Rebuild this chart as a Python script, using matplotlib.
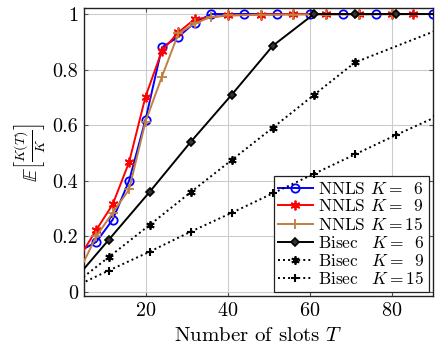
import matplotlib
matplotlib.use("Agg")
import matplotlib.pyplot as plt
from matplotlib.ticker import FixedLocator, FuncFormatter

plt.rcParams['font.family'] = 'serif'
plt.rcParams['font.serif'] = ['cmr10']
plt.rcParams['mathtext.fontset'] = 'cm'
plt.rcParams['axes.formatter.use_mathtext'] = True

# NNLS series
t_nnls6 = [4, 8, 12, 16, 20, 24, 28, 32, 36, 44, 52, 60, 68, 76, 90]
v_nnls6 = [0.147, 0.18, 0.26, 0.40, 0.62, 0.88, 0.918, 0.969, 1.0, 1.0, 1.0, 1.0, 1.0, 1.0, 1.0]

t_nnls9 = [4, 8, 12, 16, 20, 24, 28, 32, 40, 48, 56, 64, 72, 80, 85, 92]
v_nnls9 = [0.127, 0.223, 0.315, 0.467, 0.703, 0.868, 0.934, 0.982, 0.995, 0.998, 1.0, 1.0, 1.0, 1.0, 1.0, 1.0]

t_nnls15 = [4, 8, 12, 16, 20, 24, 28, 32, 36, 40, 48, 56, 64, 72, 80, 92]
v_nnls15 = [0.079, 0.20, 0.285, 0.369, 0.613, 0.775, 0.93, 0.966, 0.99, 0.995, 0.997, 0.998, 0.998, 0.998, 0.999, 1.0]

# Bisection series
t_bisec = [1, 11, 21, 31, 41, 51, 61, 71, 81, 91]
v_bisec6 = [0.014, 0.187, 0.36, 0.54, 0.71, 0.886, 1.0, 1.0, 1.0, 1.0]
t_bisec9 = [1, 11, 21, 31, 41, 51, 61, 71, 101]
v_bisec9 = [0.009, 0.125, 0.241, 0.359, 0.475, 0.591, 0.709, 0.826, 1.0]
v_bisec15 = [0.007, 0.077, 0.145, 0.217, 0.285, 0.355, 0.425, 0.495, 0.565, 0.632]

labels = [r'NNLS $K=\;\;6$', r'NNLS $K=\;\;9$', r'NNLS $K=15$',
          r'Bisec $\;\;K=\;\;6$', r'Bisec $\;\;K=\;\;9$', r'Bisec $\;\;K=15$']

xticks = [20, 40, 60, 80]
yticks = [0, 0.2, 0.4, 0.6, 0.8, 1]

fig = plt.figure(figsize=(4.37, 3.56), dpi=100)
ax = fig.add_axes([0.192, 0.1685, 0.799, 0.809])

brown = '#bf8040'
asterisk = (6, 2, 0)
lw = 1.4

ax.plot(t_nnls6, v_nnls6, color='blue', lw=lw, marker='o', ms=6, mfc='none', mew=1.3,
        markevery=list(range(1, len(t_nnls6))), label=labels[0], zorder=3)
ax.plot(t_nnls9, v_nnls9, color='red', lw=lw, marker=asterisk, ms=7, mew=1.3,
        markevery=list(range(1, len(t_nnls9))), label=labels[1], zorder=4)
ax.plot(t_nnls15, v_nnls15, color=brown, lw=lw, marker='+', ms=7, mew=1.3,
        markevery=list(range(1, len(t_nnls15))), label=labels[2], zorder=5)
ax.plot(t_bisec, v_bisec6, color='black', lw=lw, marker='D', ms=4, mfc='#333333', mew=1.2,
        markevery=list(range(1, len(t_bisec))), label=labels[3], zorder=6)
ax.plot(t_bisec9, v_bisec9, color='black', lw=lw, ls=(0, (1, 1.6)), marker=asterisk, ms=6, mew=1.3,
        markevery=list(range(1, len(t_bisec9))), label=labels[4], zorder=6)
ax.plot(t_bisec, v_bisec15, color='black', lw=lw, ls=(0, (1, 1.6)), marker='+', ms=6, mew=1.5,
        markevery=list(range(1, len(t_bisec))), label=labels[5], zorder=6)

ax.set_xlim(5, 90)
ax.set_ylim(-0.0144, 1.0216)
ax.xaxis.set_major_locator(FixedLocator(xticks))
ax.yaxis.set_major_locator(FixedLocator(yticks))
ax.yaxis.set_major_formatter(FuncFormatter(lambda v, p: '0' if v == 0 else ('1' if v == 1 else f'{v:.1f}')))
ax.grid(True, color='#cccccc', lw=0.8)
ax.set_axisbelow(True)
ax.tick_params(direction='in', top=True, right=True, labelsize=14.5, length=3, color='#555555', pad=4)
for s in ax.spines.values():
    s.set_color('#222222')
    s.set_linewidth(1.0)

ax.set_xlabel(r'Number of slots $T$', fontsize=15, labelpad=5)
ax.set_ylabel(r'$\mathbb{E}\left[\frac{K(T)}{K}\right]$', fontsize=14, labelpad=3)

leg = ax.legend(loc='lower right', fontsize=12.5, frameon=True, fancybox=False,
                edgecolor='#222222', framealpha=1, borderaxespad=0.25, handlelength=2.0,
                handletextpad=0.3, labelspacing=0.1, borderpad=0.25)
leg.get_frame().set_linewidth(0.9)

fig.savefig('out.png', dpi=100)
